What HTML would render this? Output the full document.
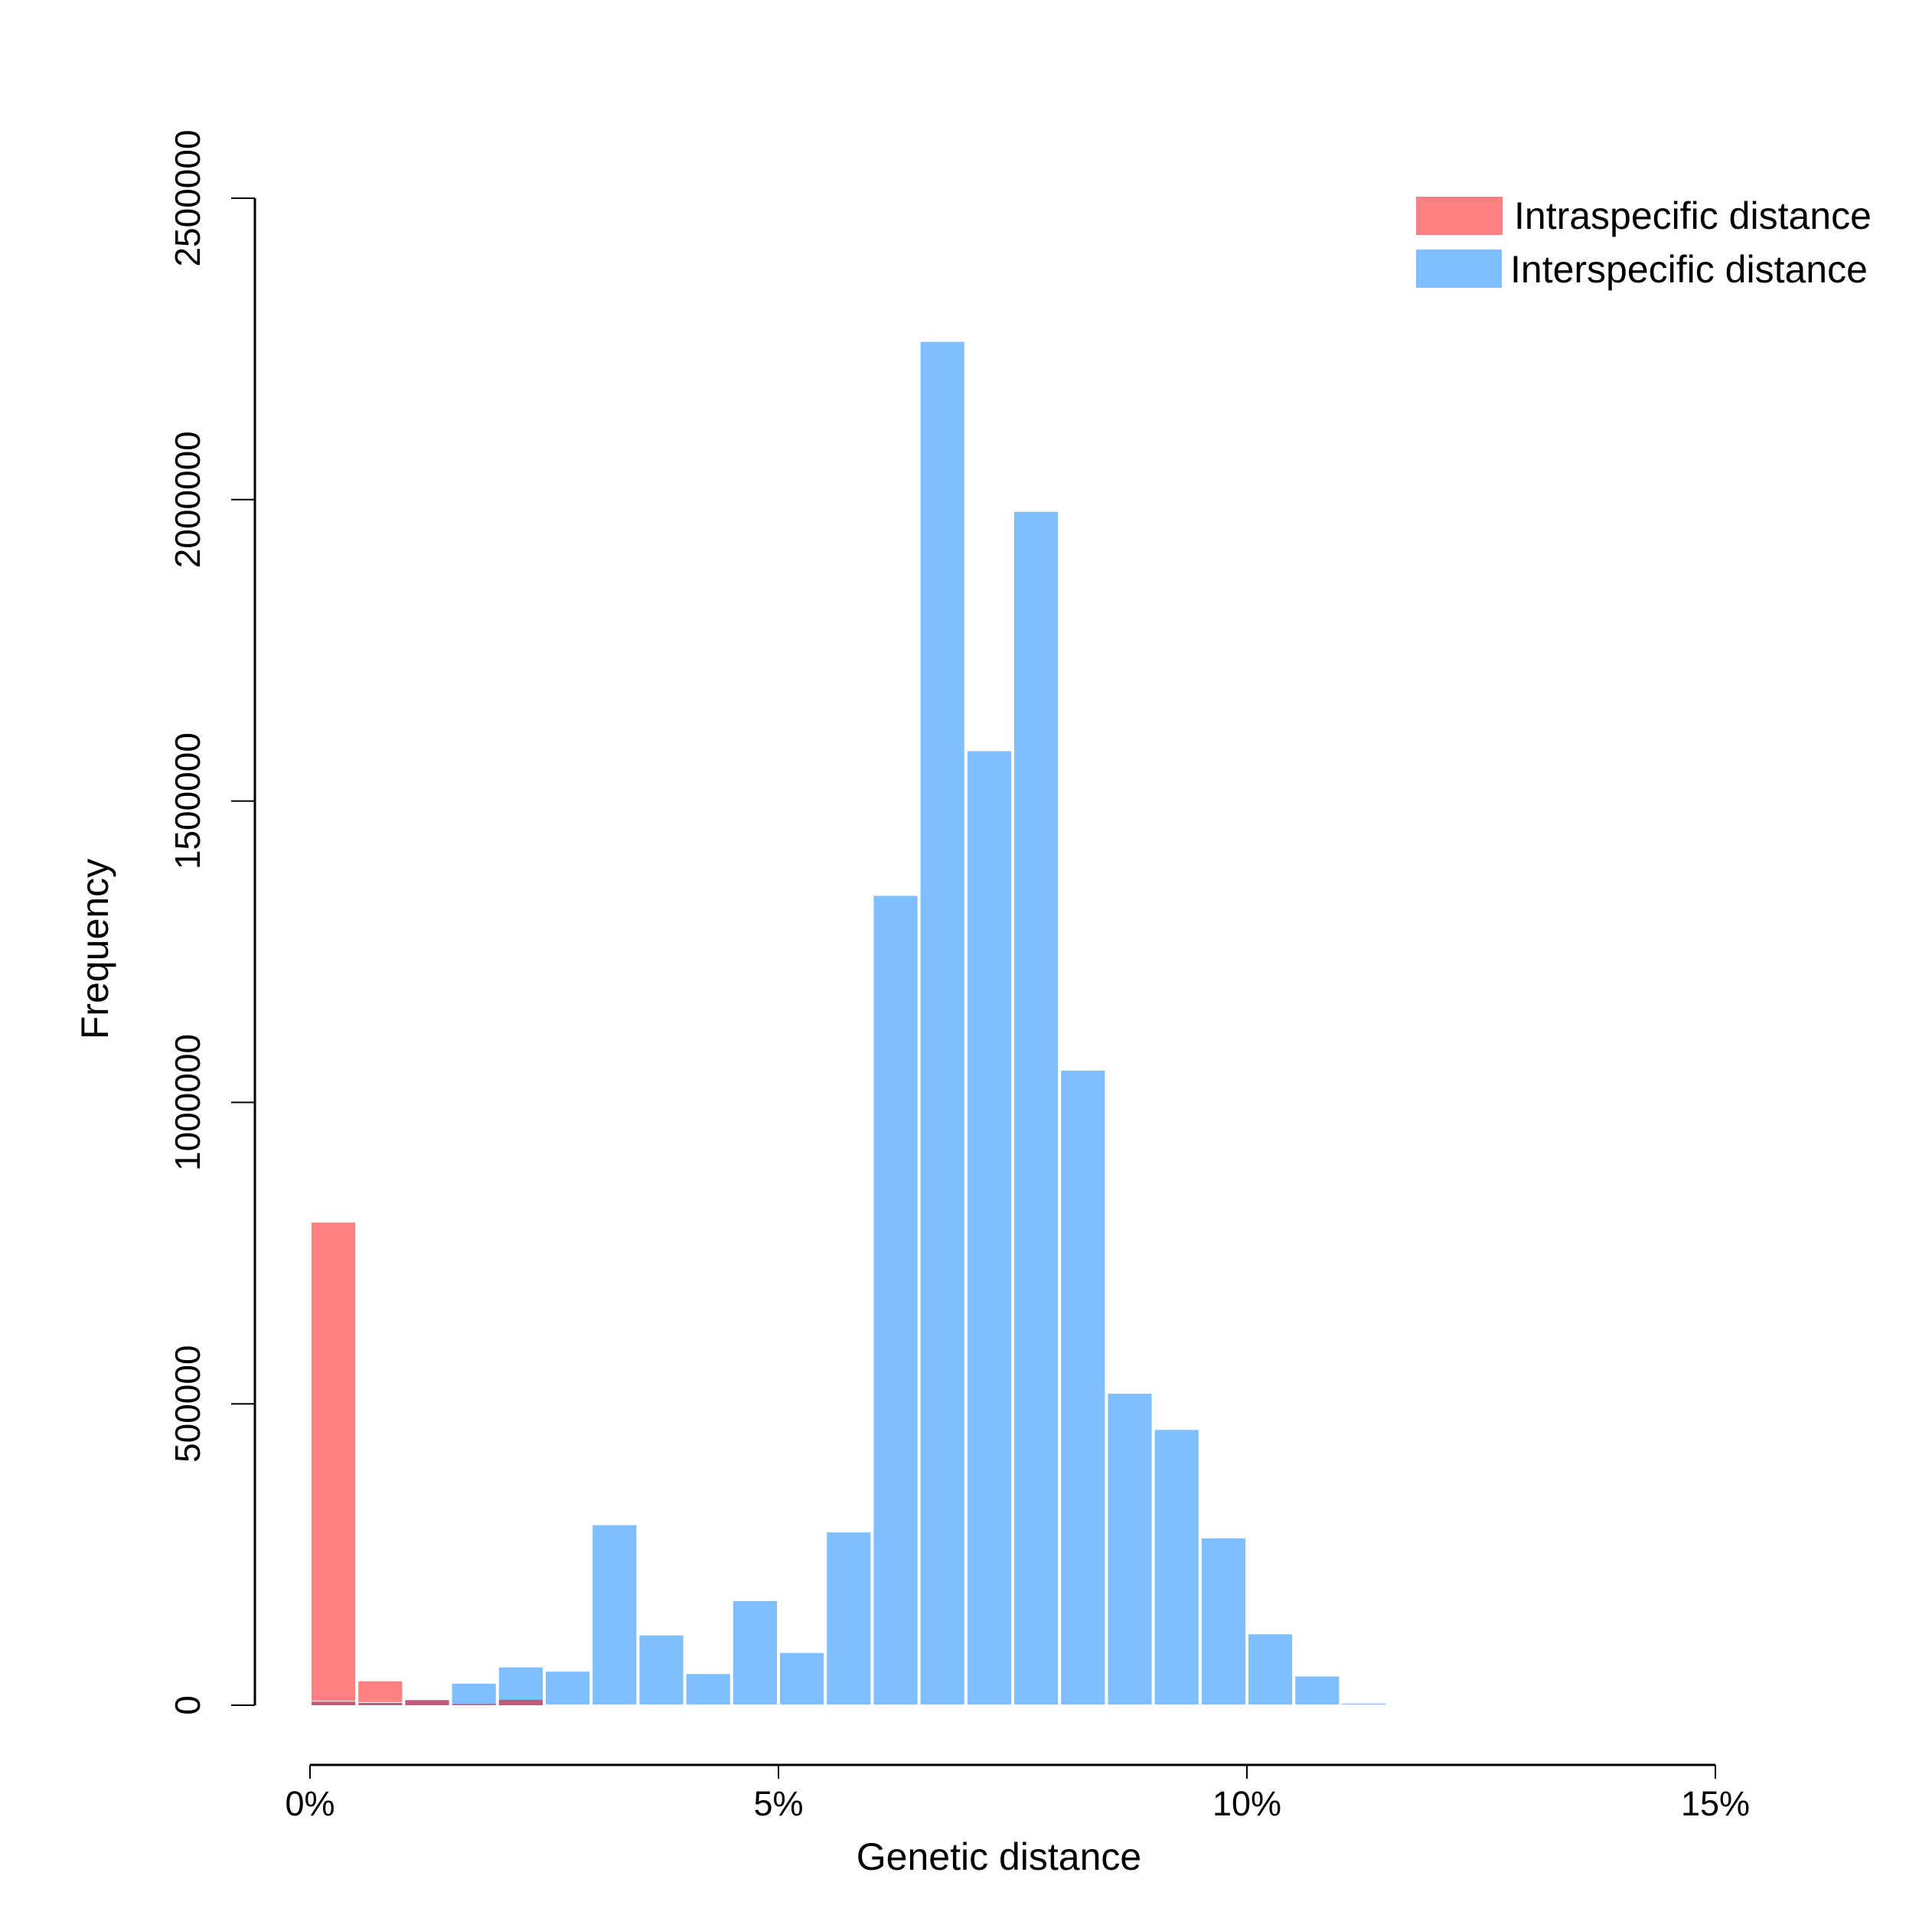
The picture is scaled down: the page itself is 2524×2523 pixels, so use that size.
<!DOCTYPE html>
<html><head><meta charset="utf-8"><style>
html,body{margin:0;padding:0;background:#fff;}
svg{display:block;font-family:"Liberation Sans",Arial,sans-serif;}
</style></head><body>
<svg id="chart" width="2524" height="2523" viewBox="0 0 2524 2523" xmlns="http://www.w3.org/2000/svg">
<rect width="2524" height="2523" fill="#fff"/>
<g id="bars"></g>
<g id="axes"></g>
<text x="1305" y="2443" font-size="50" text-anchor="middle">Genetic distance</text>
<text transform="translate(141,1240) rotate(-90)" font-size="50" text-anchor="middle">Frequency</text>
<g>
<rect x="1850" y="257" width="113" height="50" fill="#FF8080"/>
<text x="1978" y="299" font-size="50">Intraspecific distance</text>
<rect x="1850" y="326" width="112" height="50" fill="#80BFFF"/>
<text x="1973" y="369" font-size="50">Interspecific distance</text>
</g>
</svg>
<script>
const binStarts = [0,0.5,1,1.5,2,2.5,3,3.5,4,4.5,5,5.5,6,6.5,7,7.5,8,8.5,9,9.5,10,10.5,11];
const intraValues = [802000,41000,8500,2000,9000,0,0,0,0,0,0,0,0,0,0,0,0,0,0,0,0,0,0];
const interValues = [6000,4000,9000,37000,64000,57000,300000,117000,53000,174000,88000,288000,1344000,2263000,1584000,1981000,1054000,518000,458000,278000,119000,49000,4000];
const yTicks = [0,500000,1000000,1500000,2000000,2500000];
const xTicks = [0,5,10,15];
const binWidth = 0.5;

const NS = "http://www.w3.org/2000/svg";
const X = v => 405 + v * (2241 - 405) / 15;
const Y = v => 2228 - v * (2228 - 259) / 2500000;
const bars = document.getElementById('bars');
const axes = document.getElementById('axes');
function mk(tag, attrs, parent){const e=document.createElementNS(NS,tag);for(const k in attrs)e.setAttribute(k,attrs[k]);parent.appendChild(e);return e;}

binStarts.forEach((b,i)=>{
  const x0=X(b), x1=X(b+binWidth);
  const r=intraValues[i], bl=interValues[i];
  if(r>0){
    const e=mk('rect',{x:x0+1,y:Y(r),width:x1-x0-2,height:Y(0)-Y(r),fill:'#FF8080',stroke:'#fff','stroke-width':2},bars);
    
    
  }
  if(bl>0){
    const e=mk('rect',{x:x0+1,y:Y(bl),width:x1-x0-2,height:Y(0)-Y(bl),fill:'#80BFFF',stroke:'#fff','stroke-width':2},bars);
    
    
  }
  const m=Math.min(r,bl);
  if(m>0){
    const e=mk('rect',{x:x0+2,y:Y(m),width:x1-x0-4,height:Y(0)-Y(m),fill:'#C05C7A'},bars);
    
    
  }
});

let e=mk('line',{x1:333,y1:Y(yTicks[0]),x2:333,y2:Y(yTicks[yTicks.length-1]),stroke:'#000','stroke-width':3},axes);


yTicks.forEach(t=>{
  const l=mk('line',{x1:302,y1:Y(t),x2:333,y2:Y(t),stroke:'#000','stroke-width':2},axes);
  
  
  const tx=mk('text',{transform:`translate(261,${Y(t)}) rotate(-90)`,'font-size':46,'text-anchor':'middle'},axes);
  tx.textContent=String(t);
  
  
});
e=mk('line',{x1:X(xTicks[0]),y1:2306,x2:X(xTicks[xTicks.length-1]),y2:2306,stroke:'#000','stroke-width':3},axes);


xTicks.forEach(t=>{
  const l=mk('line',{x1:X(t),y1:2306,x2:X(t),y2:2324,stroke:'#000','stroke-width':2},axes);
  
  
  const tx=mk('text',{x:X(t),y:2372,'font-size':45,'text-anchor':'middle'},axes);
  tx.textContent=t+'%';
  
  
});
</script>
</body></html>
